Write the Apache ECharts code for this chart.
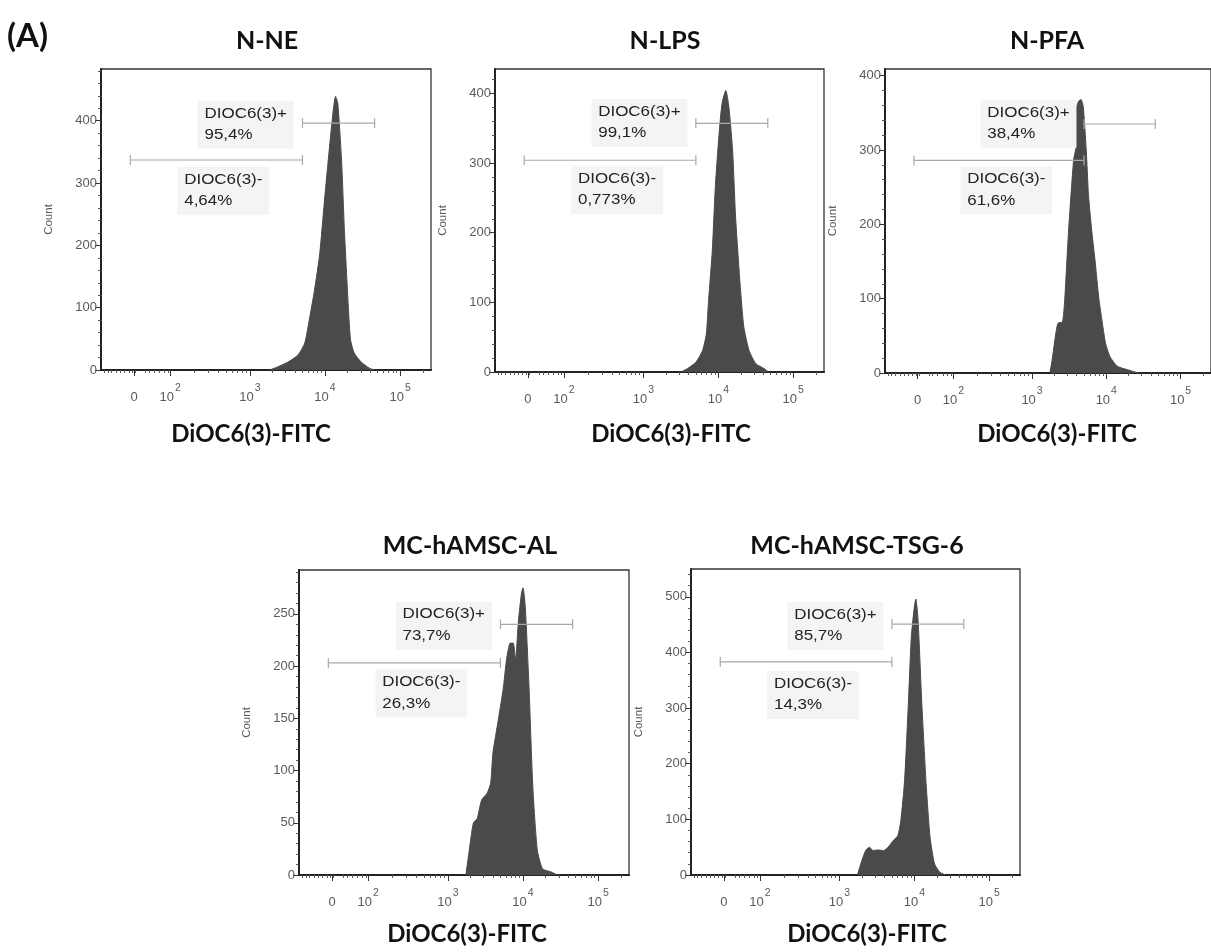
<!DOCTYPE html>
<html><head><meta charset="utf-8">
<script src="https://cdn.jsdelivr.net/npm/echarts@6/dist/echarts.min.js"></script>
<style>html,body{margin:0;padding:0;background:#fff}#c{width:1211px;height:952px}</style>
</head><body><div id="c"></div>
<script>
// ---------- texts ----------
const panelLabel = '(A)';
const panelTitles = ['N-NE', 'N-LPS', 'N-PFA', 'MC-hAMSC-AL', 'MC-hAMSC-TSG-6'];
const xAxisTitle = 'DiOC6(3)-FITC';
const yAxisTitle = 'Count';

// ---------- x axis (display scale of the cytometer, in decades) ----------
const xTickPos = [1.46, 1.94, 3, 4, 5];
const xTickLabels = ['0', '10^2', '10^3', '10^4', '10^5'];
const xLinearMinorTicks = [1.06, 1.11, 1.16, 1.22, 1.28, 1.33, 1.39, 1.44, 1.48, 1.61, 1.66, 1.73, 1.80, 1.86, 1.91];

// ---------- y axes ----------
const yMax = [483, 435, 409, 292, 550];
const yInterval = [100, 100, 100, 50, 100];
const yMinorStep = [20, 20, 20, 10, 20];

// ---------- histograms ----------
const nneX = [3.26, 3.37, 3.51, 3.64, 3.73, 3.79, 3.86, 3.93, 3.99, 4.06, 4.11, 4.14, 4.17, 4.22, 4.26, 4.31, 4.34, 4.39, 4.48, 4.59, 4.66];
const nneY = [0, 5, 13, 24, 43, 80, 128, 187, 268, 358, 417, 439, 428, 337, 219, 102, 48, 27, 13, 3, 0];

const nlpsX = [3.50, 3.59, 3.70, 3.79, 3.84, 3.87, 3.92, 3.96, 4.01, 4.05, 4.10, 4.14, 4.19, 4.23, 4.29, 4.34, 4.41, 4.50, 4.61, 4.67];
const nlpsY = [0, 5, 14, 31, 55, 103, 175, 266, 342, 386, 404, 381, 319, 223, 127, 65, 31, 12, 5, 0];

const npfaX = [3.24, 3.27, 3.32, 3.35, 3.41, 3.44, 3.49, 3.56, 3.595, 3.60, 3.63, 3.66, 3.69, 3.73, 3.76, 3.80, 3.85, 3.90, 3.94, 3.99, 4.05, 4.15, 4.30, 4.40, 4.45];
const npfaY = [0, 17, 53, 67, 69, 98, 188, 287, 305, 358, 366, 368, 358, 300, 240, 195, 150, 100, 72, 40, 22, 9, 4, 1, 0];

const alX = [3.24, 3.28, 3.34, 3.39, 3.45, 3.52, 3.57, 3.60, 3.67, 3.74, 3.78, 3.83, 3.87, 3.90, 3.94, 3.98, 4.00, 4.03, 4.08, 4.13, 4.19, 4.26, 4.37, 4.46];
const alY = [0, 21, 50, 54, 72, 78, 88, 117, 148, 180, 206, 222, 222, 206, 244, 270, 275, 257, 180, 85, 24, 6, 3, 0];

const tsgX = [3.24, 3.30, 3.35, 3.40, 3.45, 3.51, 3.59, 3.65, 3.72, 3.78, 3.82, 3.87, 3.92, 3.96, 4.00, 4.02, 4.05, 4.10, 4.16, 4.21, 4.27, 4.34, 4.42];
const tsgY = [0, 26, 44, 50, 44, 45, 44, 50, 62, 71, 98, 170, 308, 428, 482, 496, 458, 308, 158, 68, 20, 5, 0];

// ---------- gates ----------
const gateLo = 1.41, gateSplit = 3.70, gateHi = 4.66;
const gateMinusY = [337, 304, 286, 203, 383];
const gatePlusY = [396, 357, 335, 240, 451];
const posPct = ['95,4%', '99,1%', '38,4%', '73,7%', '85,7%'];
const negPct = ['4,64%', '0,773%', '61,6%', '26,3%', '14,3%'];
const posLabelX = 2.40, negLabelX = 2.13;
const posLabelY = [429, 389, 365, 260, 487];
const negLabelY = [323, 293, 275, 195, 363];

// ---------- layout ----------
const grids = [
  {left: 101, top: 69, width: 330, height: 301},
  {left: 495, top: 69, width: 329, height: 303},
  {left: 885, top: 69, width: 329, height: 304},
  {left: 299, top: 570, width: 330, height: 305},
  {left: 691, top: 569, width: 329, height: 306}
];
const titlePos = [[267, 41], [665, 41], [1047, 41], [470, 546], [857, 546]];
const xTitlePos = [[251, 434], [671, 434], [1057, 434], [467, 934], [867, 934]];

const X_MIN = 1.02, X_MAX = 5.41;
const histX = [nneX, nlpsX, npfaX, alX, tsgX];
const histY = [nneY, nlpsY, npfaY, alY, tsgY];

function minorXTicks() {
  const out = xLinearMinorTicks.slice();
  for (let m = 2; m <= 9; m++) out.push(+(xTickPos[1] + (3 - xTickPos[1]) * Math.log10(m)).toFixed(3));
  for (let d = 3; d <= 4; d++) for (let m = 2; m <= 9; m++) out.push(+(d + Math.log10(m)).toFixed(3));
  out.push(+(5 + Math.log10(2)).toFixed(3));
  return out;
}
const xMinor = minorXTicks();

const axisColor = '#222';
const labelColor = '#5a5a5a';
const tickFont = 'Liberation Sans';

const option = {
  animation: false,
  backgroundColor: '#fff',
  grid: [], xAxis: [], yAxis: [], series: [],
  graphic: []
};

grids.forEach((g, i) => {
  option.grid.push(Object.assign({show: true, borderColor: '#333', borderWidth: 1.3, backgroundColor: 'transparent'}, g));
  // main x axis
  option.xAxis.push({
    type: 'value', gridIndex: i, position: 'bottom', min: X_MIN, max: X_MAX,
    axisLine: {show: true, onZero: false, lineStyle: {color: axisColor, width: 2}},
    axisTick: {show: true, customValues: xTickPos, length: 6, lineStyle: {color: '#333', width: 1}},
    splitLine: {show: false},
    axisLabel: {
      customValues: xTickPos, margin: 13,
      formatter: function (v) {
        let k = 0, best = 1e9;
        xTickPos.forEach((p, j) => { if (Math.abs(p - v) < best) { best = Math.abs(p - v); k = j; } });
        const t = xTickLabels[k];
        if (t.indexOf('^') >= 0) { const parts = t.split('^'); return '{b|' + parts[0] + '}{s|' + parts[1] + '}'; }
        return '{b|' + t + '}';
      },
      rich: {
        b: {fontSize: 13, fontFamily: tickFont, color: labelColor, verticalAlign: 'bottom', lineHeight: 21},
        s: {fontSize: 10.5, fontFamily: tickFont, color: labelColor, verticalAlign: 'top', lineHeight: 21, padding: [0, 0, 0, 1]}
      }
    }
  });
  // minor x ticks
  option.xAxis.push({
    type: 'value', gridIndex: i, position: 'bottom', min: X_MIN, max: X_MAX,
    axisLine: {show: false}, splitLine: {show: false},
    axisTick: {show: true, customValues: xMinor, length: 3, lineStyle: {color: '#555', width: 1}},
    axisLabel: {show: false}
  });
  const yMajors = [];
  for (let v = 0; v <= yMax[i]; v += yInterval[i]) yMajors.push(v);
  const yMinors = [];
  for (let v = yMinorStep[i]; v <= yMax[i]; v += yMinorStep[i]) if (v % yInterval[i] !== 0) yMinors.push(v);
  option.yAxis.push({
    type: 'value', gridIndex: i, position: 'left', min: 0, max: yMax[i],
    axisLine: {show: true, lineStyle: {color: axisColor, width: 2}},
    axisTick: {show: true, customValues: yMajors, length: 6, lineStyle: {color: '#333'}},
    splitLine: {show: false},
    axisLabel: {customValues: yMajors, fontSize: 13, fontFamily: tickFont, color: labelColor, margin: 4},
    name: yAxisTitle, nameLocation: 'middle', nameGap: 46,
    nameTextStyle: {fontSize: 11.5, fontFamily: tickFont, color: labelColor}
  });
  option.yAxis.push({
    type: 'value', gridIndex: i, position: 'left', min: 0, max: yMax[i],
    axisLine: {show: false}, splitLine: {show: false}, axisLabel: {show: false},
    axisTick: {show: true, customValues: yMinors, length: 3, lineStyle: {color: '#555'}}
  });

  // histogram
  option.series.push({
    type: 'line', xAxisIndex: 2 * i, yAxisIndex: 2 * i,
    data: histX[i].map((x, j) => [x, histY[i][j]]),
    symbol: 'none', smooth: 0.2,
    lineStyle: {color: '#4a4a4a', width: 1},
    areaStyle: {color: '#4a4a4a', opacity: 1},
    z: 2
  });
  // gates
  option.series.push({
    type: 'custom', xAxisIndex: 2 * i, yAxisIndex: 2 * i, z: 5, clip: false,
    data: [[gateLo, gateSplit, gateMinusY[i]], [gateSplit, gateHi, gatePlusY[i]]],
    renderItem: function (params, api) {
      const a = api.coord([api.value(0), api.value(2)]);
      const b = api.coord([api.value(1), api.value(2)]);
      const st = {stroke: '#a8a8a8', lineWidth: 1.2};
      return {type: 'group', children: [
        {type: 'line', shape: {x1: a[0], y1: a[1], x2: b[0], y2: b[1]}, style: st},
        {type: 'line', shape: {x1: a[0], y1: a[1] - 5, x2: a[0], y2: a[1] + 5}, style: st},
        {type: 'line', shape: {x1: b[0], y1: b[1] - 5, x2: b[0], y2: b[1] + 5}, style: st}
      ]};
    }
  });
  // gate labels
  option.series.push({
    type: 'custom', xAxisIndex: 2 * i, yAxisIndex: 2 * i, z: 4, clip: false,
    data: [[posLabelX, posLabelY[i], 'DIOC6(3)+\n' + posPct[i]], [negLabelX, negLabelY[i], 'DIOC6(3)-\n' + negPct[i]]],
    renderItem: function (params, api) {
      const p = api.coord([api.value(0), api.value(1)]);
      const d = option.series[params.seriesIndex].data[params.dataIndex];
      return {type: 'text', x: p[0] - 7, y: p[1] - 2, scaleX: 1.13,
        style: {text: d[2], font: '15px "Liberation Sans"', fill: '#222', lineHeight: 21.5,
          backgroundColor: '#f4f4f4', padding: [2, 6, 3, 6], textAlign: 'left', textVerticalAlign: 'top'}};
    }
  });

  option.graphic.push({type: 'text', x: titlePos[i][0], y: titlePos[i][1],
    style: {text: panelTitles[i], font: 'bold 25px Lato', fill: '#111', textAlign: 'center', textVerticalAlign: 'middle'}});
  option.graphic.push({type: 'text', x: xTitlePos[i][0], y: xTitlePos[i][1],
    style: {text: xAxisTitle, font: 'bold 24px Lato', fill: '#111', textAlign: 'center', textVerticalAlign: 'middle'}});
});
option.graphic.push({type: 'text', x: 7, y: 36,
  style: {text: panelLabel, font: 'bold 33px Lato', fill: '#111', textAlign: 'left', textVerticalAlign: 'middle'}});

const chart = echarts.init(document.getElementById('c'), null, {renderer: 'canvas'});
chart.setOption(option);
</script>
</body></html>
